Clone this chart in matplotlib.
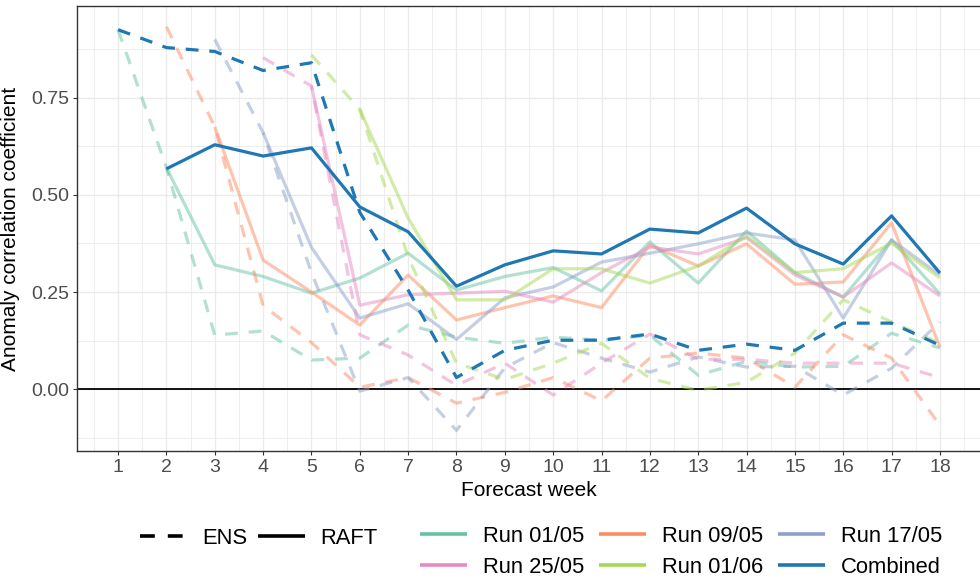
import numpy as np
import matplotlib
matplotlib.use("Agg")
import matplotlib.pyplot as plt
from matplotlib.lines import Line2D

plt.rcParams['font.family'] = ['Liberation Sans', 'DejaVu Sans']

nan = np.nan
weeks = np.arange(1, 19)

# --- data (anomaly correlation coefficient per forecast week) ---
run_labels = ["Run 01/05", "Run 09/05", "Run 17/05", "Run 25/05", "Run 01/06", "Combined"]
run_colors = ["#66C2A5", "#FC8D62", "#8DA0CB", "#E78AC3", "#A6D854", "#1F78B4"]

raft_0105 = [nan, .570, .320, .290, .247, .286, .350, .255, .290, .313, .253, .379, .273, .407, .300, .237, .384, .245]
ens_0105 = [.925, .570, .139, .150, .075, .080, .165, .134, .118, .134, .126, .139, .036, .072, .057, .059, .144, .106]

raft_0905 = [nan, nan, .675, .332, .250, .165, .294, .178, .210, .240, .210, .371, .317, .374, .270, .276, .428, .108]
ens_0905 = [nan, .933, .675, .215, .120, .005, .030, -.036, -.008, .030, -.030, .080, .093, .080, .005, .140, .080, -.093]

raft_1705 = [nan, nan, nan, .660, .365, .183, .220, .128, .235, .263, .327, .350, .374, .402, .384, .183, .384, .294]
ens_1705 = [nan, nan, .900, .660, .300, -.005, .030, -.106, .055, .120, .080, .044, .083, .057, .059, -.015, .054, .173]

raft_2505 = [nan, nan, nan, nan, .780, .216, .243, .247, .252, .224, .300, .366, .348, .390, .294, .237, .325, .240]
ens_2505 = [nan, nan, nan, .853, .780, .140, .088, .010, .067, -.015, .067, .142, .077, .077, .067, .067, .067, .030]

raft_0106 = [nan, nan, nan, nan, nan, .720, .440, .230, .230, .310, .310, .273, .317, .394, .300, .310, .376, .286]
ens_0106 = [nan, nan, nan, nan, .860, .720, .340, .067, .025, .067, .118, .028, -.003, .018, .093, .230, .173, .118]

raft_comb = [nan, .567, .629, .600, .621, .469, .405, .265, .320, .356, .348, .412, .402, .466, .374, .322, .446, .299]
ens_comb = [.925, .879, .869, .820, .840, .455, .255, .030, .100, .126, .126, .142, .100, .116, .100, .170, .170, .113]

raft_series = [raft_0105, raft_0905, raft_1705, raft_2505, raft_0106, raft_comb]
ens_series = [ens_0105, ens_0905, ens_1705, ens_2505, ens_0106, ens_comb]

# --- figure ---
W, H = 980, 579
fig = plt.figure(figsize=(W / 100, H / 100), dpi=100)
ax = fig.add_axes([77 / W, 1 - 451 / H, (981 - 77) / W, (451 - 6) / H])

lw = 2.3
dash = (4, 3.4)
for i, lab in enumerate(run_labels):
    alpha = 1.0 if lab == "Combined" else 0.5
    z = 4 if lab == "Combined" else 3
    ax.plot(weeks, ens_series[i], color=run_colors[i], lw=lw, alpha=alpha,
            dashes=dash, dash_capstyle='butt', zorder=z)
    ax.plot(weeks, raft_series[i], color=run_colors[i], lw=lw, alpha=alpha,
            solid_capstyle='butt', zorder=z)

ax.axhline(0, color='black', lw=1.3, zorder=2)

ax.set_xlim(0.15, 18.85)
ax.set_ylim(-0.159, 0.986)
ax.set_xticks(weeks)
ax.set_xticks(np.arange(0.5, 19, 1), minor=True)
ax.set_yticks([0, 0.25, 0.5, 0.75])
ax.set_yticklabels(["0.00", "0.25", "0.50", "0.75"])
ax.set_yticks([-0.125, 0.125, 0.375, 0.625, 0.875], minor=True)

ax.grid(True, which='major', color='#EBEBEB', lw=1.0, zorder=0)
ax.grid(True, which='minor', color='#EBEBEB', lw=0.6, zorder=0)
ax.set_axisbelow(True)

ax.tick_params(which='major', length=3, width=0.8, color='#333333',
               labelcolor='#4D4D4D', labelsize=14, pad=2.5)
ax.tick_params(which='minor', length=0)
for s in ax.spines.values():
    s.set_color('#333333')
    s.set_linewidth(1.0)

ax.set_xlabel("Forecast week", fontsize=15, labelpad=4)
ax.set_ylabel("Anomaly correlation coefficient", fontsize=15, labelpad=8)

# --- legends ---
lt_handles = [Line2D([], [], color='black', lw=2.6, dashes=(4.1, 3.6), dash_capstyle='butt'),
              Line2D([], [], color='black', lw=2.6, solid_capstyle='butt')]
leg1 = fig.legend(lt_handles, ["ENS", "RAFT"], ncol=2, frameon=False, fontsize=15.8,
                  loc='center left', bbox_to_anchor=(140 / W, 1 - 538 / H),
                  borderaxespad=0, borderpad=0, handlelength=2.15,
                  handletextpad=0.7, columnspacing=0.45)

order = [0, 3, 1, 4, 2, 5]
col_handles = [Line2D([], [], color=run_colors[i], lw=2.6, solid_capstyle='butt') for i in order]
col_labels = [run_labels[i] for i in order]
leg2 = fig.legend(col_handles, col_labels, ncol=3, frameon=False, fontsize=15.8,
                  loc='center left', bbox_to_anchor=(420 / W, 1 - 552 / H),
                  borderaxespad=0, borderpad=0, handlelength=2.15,
                  handletextpad=0.7, columnspacing=0.7, labelspacing=0.45)

fig.savefig("out.png", dpi=100)
